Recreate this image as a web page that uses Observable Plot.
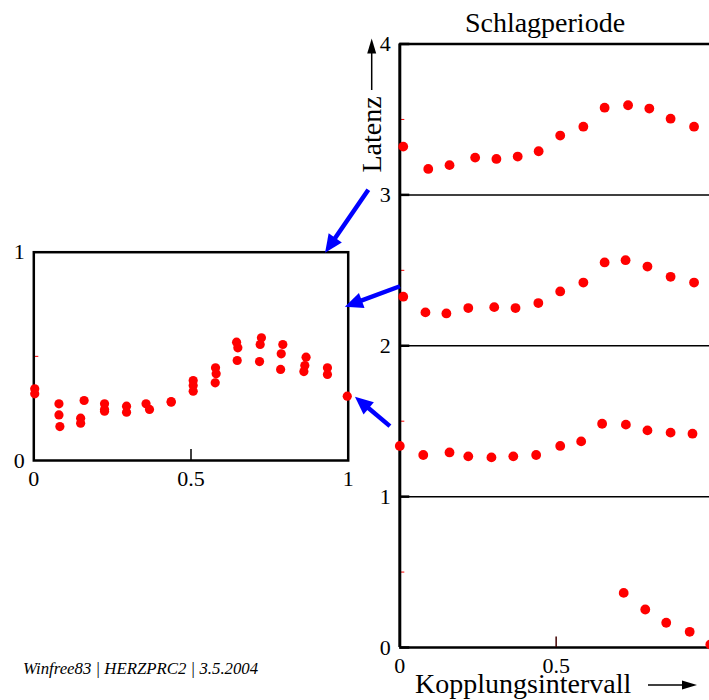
<!DOCTYPE html>
<html>
<head>
<meta charset="utf-8">
<script src="https://cdn.jsdelivr.net/npm/d3@7"></script>
<script src="https://cdn.jsdelivr.net/npm/@observablehq/plot@0.6"></script>
<style>
  html, body { margin: 0; padding: 0; background: white; }
  #wrap { position: relative; width: 709px; height: 700px; overflow: hidden; font-family: "Liberation Serif", serif; }
  #wrap > svg { position: absolute; top: 0; }
</style>
</head>
<body>
<div id="wrap"></div>
<script>
// ---------- Data ----------
// Right panel: Latenz vs Kopplungsintervall, four branches
const s1x = [0.011, 0.091, 0.159, 0.241, 0.309, 0.377, 0.444, 0.513, 0.587, 0.655, 0.730, 0.798, 0.866, 0.941];
const s1y = [3.320, 3.172, 3.197, 3.247, 3.238, 3.254, 3.289, 3.393, 3.452, 3.578, 3.594, 3.572, 3.505, 3.452];
const s2x = [0.011, 0.082, 0.149, 0.219, 0.302, 0.370, 0.443, 0.513, 0.587, 0.655, 0.722, 0.792, 0.866, 0.941];
const s2y = [2.325, 2.221, 2.214, 2.250, 2.256, 2.250, 2.283, 2.360, 2.419, 2.552, 2.567, 2.525, 2.457, 2.419];
const s3x = [0.000, 0.075, 0.159, 0.219, 0.293, 0.363, 0.436, 0.513, 0.580, 0.647, 0.723, 0.792, 0.866, 0.936];
const s3y = [1.336, 1.276, 1.293, 1.267, 1.260, 1.267, 1.276, 1.336, 1.366, 1.483, 1.477, 1.439, 1.424, 1.417];
const s4x = [0.716, 0.785, 0.852, 0.927, 0.993];
const s4y = [0.362, 0.252, 0.164, 0.104, 0.020];

// Left panel: superimposed (phase 0..1)
const leftX = [0.003,0.003, 0.080,0.080,0.083, 0.160,0.149,0.149, 0.225,0.225,0.225, 0.295,0.295, 0.357,0.368, 0.437,0.437,
               0.507,0.507,0.507, 0.578,0.580,0.577, 0.645,0.649,0.647, 0.724,0.720,0.718, 0.792,0.787,0.785,
               0.866,0.862,0.859, 0.934,0.934, 0.997];
const leftY = [0.344,0.320, 0.272,0.219,0.163, 0.288,0.203,0.179, 0.272,0.245,0.237, 0.261,0.232, 0.272,0.245, 0.283,0.280,
               0.384,0.360,0.333, 0.445,0.416,0.373, 0.568,0.541,0.480, 0.589,0.557,0.475, 0.557,0.512,0.437,
               0.496,0.456,0.427, 0.445,0.413, 0.309];

// Ticks
const rightYTicks = [0, 1, 2, 3, 4];
const rightGrid = [1, 2, 3];
const rightBorder = [0, 4];
const rightMinor = [0.5, 1.5, 2.5, 3.5];
const rightXTicks = [0, 0.5];
const rightXMajor = [0.5];
const leftXTicks = [0, 0.5, 1];
const leftYTicks = [0, 1];
const leftYMinor = [0.5];
const leftXMajor = [0.5];

// Text
const titleText = "Schlagperiode";
const yLabelText = "Latenz";
const xLabelText = "Kopplungsintervall";
const footerText = "Winfree83 | HERZPRC2 | 3.5.2004";

// Connector arrows: [from right-panel (x,y), to left-panel (x,y)]
const connectors = [
  {rx: -0.099, ry: 3.031, lx: 0.928, ly: 0.995},
  {rx: 0.002, ry: 2.391, lx: 0.991, ly: 0.736},
  {rx: -0.030, ry: 1.464, lx: 1.023, ly: 0.304}
];

// ---------- Build ----------
const rightData = [
  ...s1x.map((x, i) => ({x, y: s1y[i]})),
  ...s2x.map((x, i) => ({x, y: s2y[i]})),
  ...s3x.map((x, i) => ({x, y: s3y[i]})),
  ...s4x.map((x, i) => ({x, y: s4y[i]}))
];
const leftData = leftX.map((x, i) => ({x, y: leftY[i]}));

const RED = "#ff0000";
const fmt = d => String(d);
const font = {fontFamily: "Liberation Serif, serif", fontSize: "22px", background: "transparent", overflow: "visible", color: "black"};

const RIGHT_OFFSET = 340;
const rW = 382, rML = 59.3, rMR = 10;
const rPlotW = rW - rML - rMR;

const right = Plot.plot({
  width: rW, height: 700,
  marginLeft: rML, marginRight: rMR, marginTop: 43.5, marginBottom: 53,
  x: {domain: [0, 1], axis: null},
  y: {domain: [0, 4], axis: null},
  style: font,
  marks: [
    Plot.ruleY(rightGrid, {stroke: "black", strokeWidth: 1.5}),
    Plot.ruleY(rightBorder, {stroke: "black", strokeWidth: 2.5}),
    Plot.tickY(rightYTicks, {stroke: "black", strokeWidth: 2.5, insetRight: rPlotW - 10}),
    Plot.tickY(rightMinor, {stroke: RED, strokeWidth: 1, insetLeft: 1, insetRight: rPlotW - 5}),
    Plot.tickX(rightXMajor, {stroke: "#400000", strokeWidth: 1.5, insetTop: 604 - 11}),
    Plot.ruleX([0], {stroke: "black", strokeWidth: 3, y1: 0, y2: 4}),
    Plot.dot(rightData, {x: "x", y: "y", r: 4.9, fill: RED, stroke: null}),
    Plot.axisY(rightYTicks, {tickSize: 0, tickPadding: 9, fontSize: 22, anchor: "left", label: null, tickFormat: fmt}),
    Plot.axisX(rightXTicks, {tickSize: 0, tickPadding: 10, fontSize: 22, anchor: "bottom", label: null, tickFormat: fmt})
  ]
});
right.style.left = RIGHT_OFFSET + "px";

const lW = 370, lML = 33.3, lMR = 22.3, lMT = 251.7, lMB = 40;
const lPlotW = lW - lML - lMR;
const lPlotH = 500 - lMT - lMB;
const left = Plot.plot({
  width: lW, height: 500,
  marginLeft: lML, marginRight: lMR, marginTop: lMT, marginBottom: lMB,
  x: {domain: [0, 1], axis: null},
  y: {domain: [0, 1], axis: null},
  style: font,
  marks: [
    Plot.tickY(leftYMinor, {stroke: RED, strokeWidth: 1, insetLeft: 1, insetRight: lPlotW - 5}),
    Plot.tickX(leftXMajor, {stroke: "black", strokeWidth: 1.5, insetTop: lPlotH - 11}),
    Plot.frame({stroke: "black", strokeWidth: 2.5}),
    Plot.dot(leftData, {x: "x", y: "y", r: 4.6, fill: RED, stroke: null}),
    Plot.axisY(leftYTicks, {tickSize: 0, tickPadding: 9, fontSize: 22, anchor: "left", label: null, tickFormat: fmt}),
    Plot.axisX(leftXTicks, {tickSize: 0, tickPadding: 10, fontSize: 22, anchor: "bottom", label: null, tickFormat: fmt})
  ]
});
left.style.left = "0px";

const wrap = document.getElementById("wrap");
wrap.appendChild(left);
wrap.appendChild(right);

// ---------- Overlay: labels and arrows ----------
const NS = "http://www.w3.org/2000/svg";
const ov = document.createElementNS(NS, "svg");
ov.setAttribute("width", 709);
ov.setAttribute("height", 700);
ov.style.left = "0px";
ov.style.pointerEvents = "none";
wrap.appendChild(ov);

function el(tag, attrs, text) {
  const e = document.createElementNS(NS, tag);
  for (const k in attrs) e.setAttribute(k, attrs[k]);
  if (text != null) e.textContent = text;
  ov.appendChild(e);
  return e;
}
function arrow(x1, y1, x2, y2, color, sw, headLen, headHalf) {
  const dx = x2 - x1, dy = y2 - y1, L = Math.hypot(dx, dy);
  const ux = dx / L, uy = dy / L;
  const bx = x2 - ux * headLen, by = y2 - uy * headLen;
  el("line", {x1, y1, x2: bx + ux * 2, y2: by + uy * 2, stroke: color, "stroke-width": sw});
  const px = -uy, py = ux;
  el("polygon", {points: `${x2},${y2} ${bx + px * headHalf},${by + py * headHalf} ${bx - px * headHalf},${by - py * headHalf}`, fill: color});
}

const rx = right.scale("x"), ry = right.scale("y");
const lx = left.scale("x"), ly = left.scale("y");

// Title
el("text", {x: 545, y: 32, "text-anchor": "middle", "font-family": "Liberation Serif, serif", "font-size": 28}, titleText);
// Y label (rotated) with arrow
el("text", {transform: "translate(381,134.5) rotate(-90)", "text-anchor": "middle", "font-family": "Liberation Serif, serif", "font-size": 28}, yLabelText);
arrow(371.7, 90, 371.7, 38.5, "black", 1.5, 15, 4.5);
// X label with arrow
el("text", {x: 415, y: 693, "font-family": "Liberation Serif, serif", "font-size": 28}, xLabelText);
arrow(648, 685, 697, 685, "black", 1.5, 15, 4.5);
// Footer
el("text", {x: 23, y: 673.5, "font-family": "Liberation Serif, serif", "font-size": 16.8, "font-style": "italic"}, footerText);

// Connector arrows
for (const c of connectors) {
  const x1 = RIGHT_OFFSET + rx.apply(c.rx), y1 = ry.apply(c.ry);
  const x2 = lx.apply(c.lx), y2 = ly.apply(c.ly);
  arrow(x1, y1, x2, y2, "#0000ff", 4.5, 18, 8);
}
</script>
</body>
</html>
